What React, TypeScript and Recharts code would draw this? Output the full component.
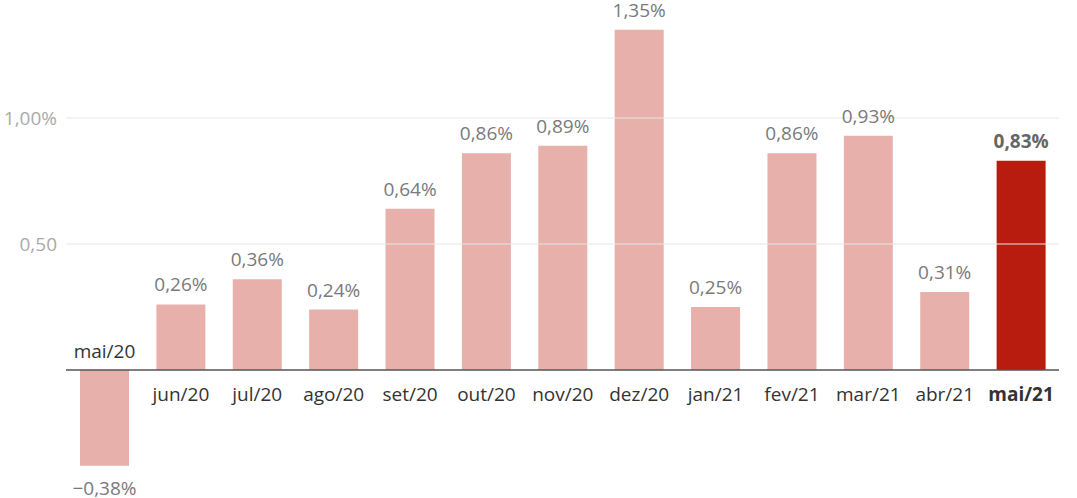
import React from "react";
import { BarChart, Bar, YAxis, XAxis, ReferenceLine, LabelList, Cell } from "recharts";

const categories = ["mai/20", "jun/20", "jul/20", "ago/20", "set/20", "out/20", "nov/20", "dez/20", "jan/21", "fev/21", "mar/21", "abr/21", "mai/21"];
const values = [-0.38, 0.26, 0.36, 0.24, 0.64, 0.86, 0.89, 1.35, 0.25, 0.86, 0.93, 0.31, 0.83];
const yTicks = [0.5, 1];
const highlightIndex = 12;

const data = categories.map((name, i) => ({ name, value: values[i] }));

const FONT = "'Open Sans', sans-serif";
const fmt = (v: number) => (v < 0 ? "\u2212" : "") + Math.abs(v).toFixed(2).replace(".", ",") + "%";

const ValueLabel = (props: any) => {
  const { x, y, width, height, value, index } = props;
  const top = Math.min(y, y + height);
  const bottom = Math.max(y, y + height);
  const cx = x + width / 2;
  const bold = index === highlightIndex;
  const ty = value >= 0 ? top - 13 : bottom + 29;
  return (
    <text x={cx} y={ty} textAnchor="middle" fontFamily={FONT} fontSize={19} fontWeight={bold ? 700 : 400} fill={bold ? "#666" : "#7a7a7a"}>
      {fmt(value)}
    </text>
  );
};

const CatLabel = (props: any) => {
  const { x, y, width, height, index } = props;
  const top = Math.min(y, y + height);
  const bottom = Math.max(y, y + height);
  const v = values[index];
  const cx = x + width / 2;
  const zero = v >= 0 ? bottom : top;
  const ty = v >= 0 ? zero + 31 : zero - 12;
  const bold = index === highlightIndex;
  return (
    <text x={cx} y={ty} textAnchor="middle" fontFamily={FONT} fontSize={19} fontWeight={bold ? 700 : 400} fill="#333">
      {categories[index]}
    </text>
  );
};

export default function App() {
  return (
    <div style={{ position: "absolute", left: 0, top: 0, background: "#fff" }}>
      <BarChart width={1077} height={498} data={data} margin={{ top: 17.2, right: 18, bottom: 27.2, left: 0 }}>
        <XAxis dataKey="name" hide />
        <YAxis
          width={66}
          domain={[-0.4, 1.4]}
          ticks={yTicks}
          axisLine={false}
          tickLine={false}
          tickSize={0}
          tickMargin={9}
          tickFormatter={(v: number) => (v === 1 ? "1,00%" : v.toFixed(2).replace(".", ","))}
          tick={{ fontFamily: FONT, fontSize: 19, fill: "#aaa" }}
        />
        {yTicks.map((t) => (
          <ReferenceLine key={t} y={t} stroke="#e6e6e6" strokeWidth={1} />
        ))}
        <Bar dataKey="value" barSize={49} isAnimationActive={false}>
          {data.map((d, i) => (
            <Cell key={d.name} fill={i === highlightIndex ? "#b81c0e" : "#e8b0ab"} />
          ))}
          <LabelList dataKey="value" content={ValueLabel} />
          <LabelList dataKey="name" content={CatLabel} />
        </Bar>
        <ReferenceLine y={0} stroke="#555" strokeWidth={1.5} />
      </BarChart>
    </div>
  );
}
